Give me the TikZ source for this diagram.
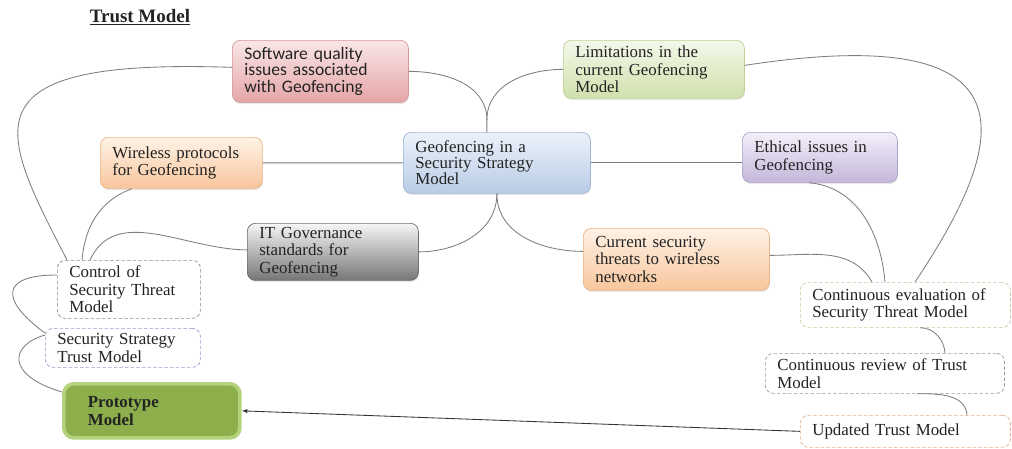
\documentclass[tikz,border=0pt]{standalone}
\usepackage{fontspec}
\setmainfont{Liberation Serif}
\newfontfamily\calibri{Carlito}
\usetikzlibrary{arrows.meta, shadows}

\definecolor{linkgray}{RGB}{125,125,125}
\definecolor{inktext}{RGB}{35,35,35}
\definecolor{pinktop}{RGB}{250,230,230}
\definecolor{pinkbot}{RGB}{228,165,168}
\definecolor{pinkline}{RGB}{212,150,152}
\definecolor{greentop}{RGB}{244,248,234}
\definecolor{greenbot}{RGB}{208,224,172}
\definecolor{greenline}{RGB}{190,208,150}
\definecolor{orangetop}{RGB}{254,242,230}
\definecolor{orangebot}{RGB}{248,198,156}
\definecolor{orangeline}{RGB}{236,180,136}
\definecolor{bluetop}{RGB}{236,242,250}
\definecolor{bluebot}{RGB}{184,204,230}
\definecolor{blueline}{RGB}{160,182,214}
\definecolor{purpletop}{RGB}{244,240,250}
\definecolor{purplebot}{RGB}{196,182,218}
\definecolor{purpleline}{RGB}{176,162,202}
\definecolor{graytop}{RGB}{246,246,246}
\definecolor{graybot}{RGB}{118,118,118}
\definecolor{grayline}{RGB}{110,110,110}
\definecolor{protofill}{RGB}{140,175,76}
\definecolor{protoline}{RGB}{180,210,124}

\begin{document}
\begin{tikzpicture}[x=0.025cm, y=-0.025cm,
  every node/.style={font=\fontsize{12}{12.5}\selectfont, text=inktext},
  box/.style={anchor=north west, rounded corners=0.2cm, align=left, inner xsep=0.3cm, inner ysep=0pt, draw, line width=0.5pt},
  fillbox/.style={box, drop shadow={opacity=0.18, shadow xshift=0.4pt, shadow yshift=-1.2pt}},
  dashbox/.style={box, dash pattern=on 2.5pt off 1.5pt, fill=white},
  link/.style={draw=linkgray, line width=0.6pt}]
\useasboundingbox (0,0) rectangle (1012,448);

\node[font=\bfseries\fontsize{13.5}{14}\selectfont] (title) at (140,17) {\underline{Trust Model}};

\node[fillbox, draw=pinkline, top color=pinktop, bottom color=pinkbot, text width=3.8cm, minimum height=1.55cm, font=\calibri\fontsize{12.5}{12}\selectfont] (swq) at (232,40) {Software quality\\issues associated\\with Geofencing};
\node[fillbox, draw=greenline, top color=greentop, bottom color=greenbot, text width=3.925cm, minimum height=1.45cm] (limit) at (563,40) {Limitations in the\\current Geofencing\\Model};
\node[fillbox, draw=orangeline, top color=orangetop, bottom color=orangebot, text width=3.45cm, minimum height=1.275cm] (wless) at (100,137) {Wireless protocols\\for Geofencing};
\node[fillbox, draw=blueline, top color=bluetop, bottom color=bluebot, text width=4.075cm, minimum height=1.525cm, font=\fontsize{12}{11.5}\selectfont] (geo) at (403,132) {Geofencing in a\\Security Strategy\\Model};
\node[fillbox, draw=purpleline, top color=purpletop, bottom color=purplebot, text width=3.275cm, minimum height=1.25cm] (ethic) at (742,132) {Ethical issues in\\Geofencing};
\node[fillbox, draw=grayline, top color=graytop, bottom color=graybot, text width=3.675cm, minimum height=1.425cm] (itgov) at (247,223) {IT Governance\\standards for\\Geofencing};
\node[fillbox, draw=orangeline, top color=orangetop, bottom color=orangebot, text width=4.05cm, minimum height=1.55cm] (threat) at (583,228) {Current security\\threats to wireless\\networks};

\node[dashbox, draw=black!45, text width=2.975cm, minimum height=1.45cm] (control) at (57,260) {Control of\\Security Threat\\Model};
\node[dashbox, draw={rgb,255:red,150;green,156;blue,200}, text width=3.275cm, minimum height=0.975cm] (sstm) at (45,328) {Security Strategy\\Trust Model};
\node[box, draw=protoline, line width=2.6pt, fill=protofill, rounded corners=0.25cm, inner xsep=0.6cm, text width=3.2cm, minimum height=1.35cm, font=\bfseries\fontsize{12}{12.5}\selectfont] (proto) at (62,382) {Prototype\\Model};

\node[dashbox, draw={rgb,255:red,200;green,200;blue,160}, text width=4.65cm, minimum height=1.125cm] (evalu) at (800,282) {Continuous evaluation of\\Security Threat Model};
\node[dashbox, draw=black!40, text width=5.375cm, minimum height=1cm] (review) at (765,353) {Continuous review of Trust\\Model};
\node[dashbox, draw={rgb,255:red,226;green,176;blue,140}, text width=4.65cm, minimum height=0.8cm] (update) at (800,415) {Updated Trust Model};

\draw[link] ([xshift=-0.25cm]geo.north) -- ++(0,0.3cm) to[out=90,in=0] (swq.east);
\draw[link] ([xshift=-0.25cm]geo.north) ++(0,0.3cm) to[out=90,in=180] (limit.west);
\draw[link] (geo.west) -- (wless.east);
\draw[link] (geo.east) -- (geo.east -| ethic.west);
\draw[link] (geo.south) to[out=-90,in=0] (itgov.east);
\draw[link] (geo.south) to[out=-90,in=180] ([yshift=0.2cm]threat.west);

\draw[link] ([yshift=0.1cm]swq.west) .. controls (-40,58) and (0,130) .. ([xshift=0.25cm]control.north west);
\draw[link] ([xshift=0.8cm]wless.south west) to[out=200,in=85] ([xshift=0.625cm]control.north west);
\draw[link] ([yshift=0.05cm]itgov.west) to[out=180,in=65] ([xshift=0.825cm]control.north west);
\draw[link] ([yshift=-0.375cm]control.north west) .. controls (0,275) and (0,300) .. ([yshift=-0.125cm]sstm.north west);
\draw[link] ([yshift=-0.175cm]sstm.north west) .. controls (10,345) and (5,375) .. ([yshift=-0.25cm]proto.north west);

\draw[link] ([yshift=0.1cm]limit.east) .. controls (1040,20) and (1010,140) .. ([xshift=2.875cm]evalu.north west);
\draw[link] ([xshift=1.675cm]ethic.south west) to[out=-5,in=95] ([xshift=2.125cm]evalu.north west);
\draw[link] ([yshift=0.1cm]threat.east) to[out=0,in=120] ([xshift=1.8cm]evalu.north west);
\draw[link] ([xshift=3cm]evalu.south west) to[out=0,in=95] ([xshift=4.5cm]review.north west);
\draw[link] ([xshift=3.8cm]review.south west) to[out=0,in=95] ([xshift=4.175cm]update.north west);
\draw[link, -{Latex[length=4pt, width=3pt]}, draw=black!80] (update.west) -- (proto.east);
\end{tikzpicture}
\end{document}
